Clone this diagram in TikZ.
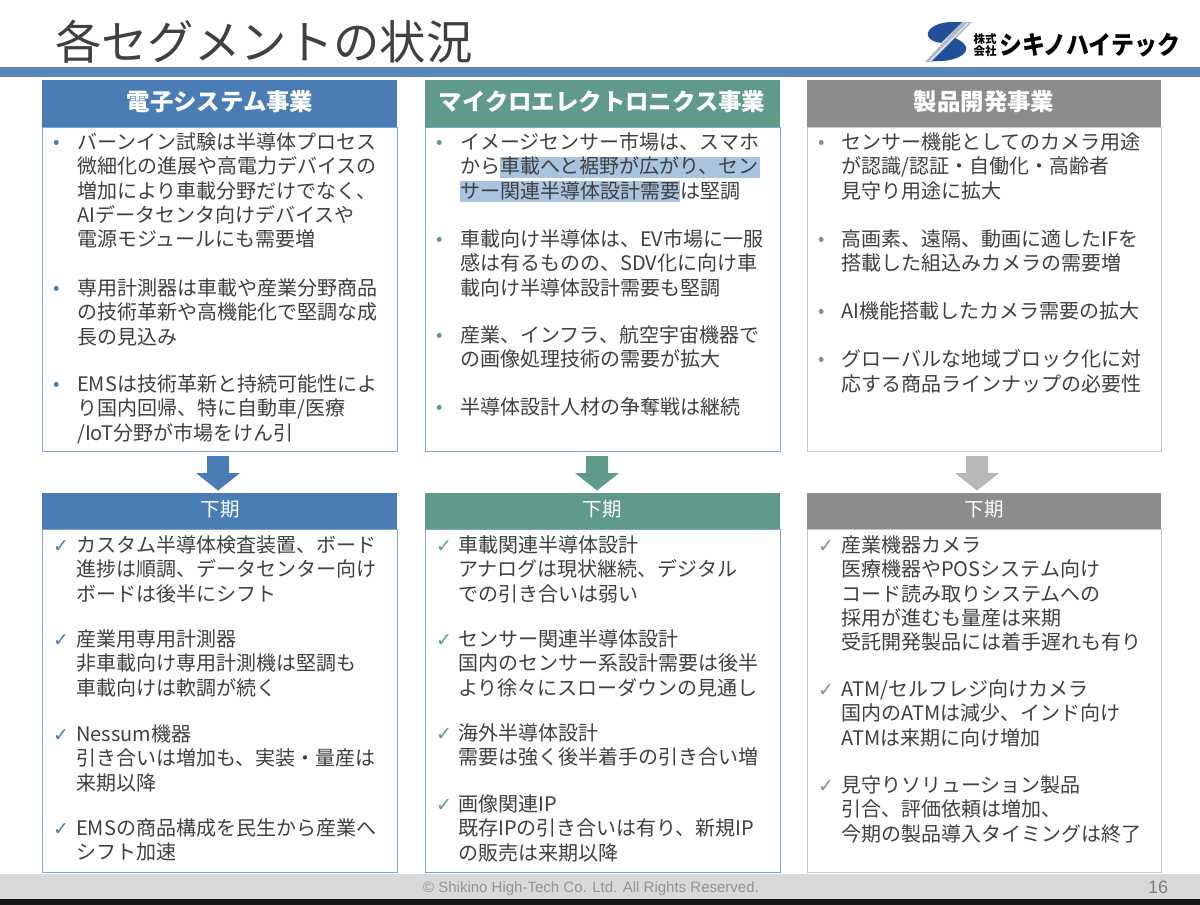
\documentclass[tikz,border=0pt]{standalone}
\usepackage{fontspec}
\setmainfont{Noto Sans CJK JP}
\newfontfamily\latinf{Liberation Sans}
\newfontfamily\dejaf{DejaVu Sans}
\definecolor{cblue}{HTML}{4A7DB5}
\definecolor{cgreen}{HTML}{5F9A8B}
\definecolor{cgray}{HTML}{8C8C8C}
\definecolor{bdblue}{HTML}{7FA6D2}
\definecolor{bdgray}{HTML}{C9C9C9}
\definecolor{arrgray}{HTML}{B7B7B7}
\definecolor{txt}{HTML}{404040}
\definecolor{hl}{HTML}{A9C4DE}
\definecolor{band}{HTML}{D9D9D9}
\definecolor{logoblue}{HTML}{1F5099}
\definecolor{logostripe}{HTML}{AEBBCB}
\tikzset{
 x=1pt,y=-1pt,
 para/.style={anchor=north west,inner sep=0pt,align=left,text=txt,font=\fontsize{20}{24.3}\selectfont},
 mark1/.style={anchor=center,inner sep=0pt,font=\fontsize{19}{19}\selectfont},
 mark2/.style={anchor=center,inner sep=0pt,font=\dejaf\fontsize{19}{19}\selectfont},
 head/.style={anchor=center,inner sep=0pt,text=white,font=\bfseries\fontsize{23.4}{26}\selectfont},
 sub/.style={anchor=center,inner sep=0pt,text=white,font=\fontsize{19.5}{22}\selectfont},
}
% \ub name x y color text : bulleted paragraph; \uc same with check mark
\newcommand{\ub}[6]{\node[mark1,text=#5] (#1m) at (#2,#4+2.5) {•};\node[para] (#1) at (#3,#4-9.5) {#6};}
\newcommand{\uc}[6]{\node[mark2,text=#5] (#1m) at (#2,#4+2) {✓};\node[para] (#1) at (#3,#4-9.5) {#6};}
\begin{document}
\begin{tikzpicture}
\useasboundingbox (0,0) rectangle (1200,905);
\fill[white] (0,0) rectangle (1200,905);
% top bar and footer
\fill[cblue!92!white] (0,67) rectangle (1200,76.5);
\fill[band] (0,874) rectangle (1200,899);
\fill[black!90] (0,899) rectangle (1200,905);
\node[anchor=west,inner sep=0pt,text=txt,font=\fontsize{46.4}{50}\selectfont] (title) at (55,41.5) {各セグメントの状況};
% logo
\fill[logostripe] (962,22) -- (972,22) -- (932,62) -- (925,62) -- cycle;
\draw[white,line width=0.7pt] (968,23) -- (930,61);
\fill[logoblue] (962,22) -- (950,22) .. controls (936,23) and (926,29) .. (928,36) .. controls (930,41) and (936,42) .. (941,43) -- cycle;
\fill[logoblue] (955,38) -- (932,61) -- (942,61) .. controls (957,60) and (968,54) .. (966,47) .. controls (964,42) and (959,40) .. (955,38) -- cycle;
\node[inner sep=0pt,font=\bfseries\fontsize{11.5}{12}\selectfont,align=center] (logoa) at (985,45) {株式\\[0pt]会社};
\node[anchor=west,inner sep=0pt,xscale=.9,font=\bfseries\fontsize{25.5}{28}\selectfont] (logob) at (999,45) {シキノハイテック};
% column boxes
\foreach \xa/\xb/\c/\bd in {42/397/cblue/bdblue,425/780/cgreen/bdblue,807/1161/cgray/bdgray}{
 \draw[\bd,line width=1pt,fill=white] (\xa,127) rectangle (\xb,451);
 \fill[\c] (\xa,80) rectangle (\xb,127);
 \draw[\bd,line width=1pt,fill=white] (\xa,529) rectangle (\xb,872);
 \fill[\c] (\xa,493) rectangle (\xb,529);
}
\node[head] (h1) at (220,102) {電子システム事業};
\node[head] (h2) at (602,102) {マイクロエレクトロニクス事業};
\node[head] (h3) at (984,102) {製品開発事業};
\node[sub] (s1) at (220,509) {下期};
\node[sub] (s2) at (602,509) {下期};
\node[sub] (s3) at (984,509) {下期};
% block arrows
\foreach \m/\c in {218/cblue,597/cgreen,977/arrgray}{
 \fill[\c] (\m-11,456) -- (\m+11,456) -- (\m+11,473) -- (\m+22,473) -- (\m,490.5) -- (\m-22,473) -- (\m-11,473) -- cycle;
}
% highlight
\fill[hl] (499.5,156.5) rectangle (760,177.5);
\fill[hl] (459.5,180.5) rectangle (680,201.5);
% column 1 upper
\ub{a1}{57}{77}{142}{cblue}{バーンイン試験は半導体プロセス\\微細化の進展や高電力デバイスの\\増加により車載分野だけでなく、\\AIデータセンタ向けデバイスや\\電源モジュールにも需要増}
\ub{a2}{57}{77}{288}{cblue}{専用計測器は車載や産業分野商品\\の技術革新や高機能化で堅調な成\\長の見込み}
\ub{a3}{57}{77}{384}{cblue}{EMSは技術革新と持続可能性によ\\り国内回帰、特に自動車/医療\\/IoT分野が市場をけん引}
% column 2 upper
\ub{b1}{440}{460}{142}{cgreen}{イメージセンサー市場は、スマホ\\から車載へと裾野が広がり、セン\\サー関連半導体設計需要は堅調}
\ub{b2}{440}{460}{239}{cgreen}{車載向け半導体は、EV市場に一服\\感は有るものの、SDV化に向け車\\載向け半導体設計需要も堅調}
\ub{b3}{440}{460}{335}{cgreen}{産業、インフラ、航空宇宙機器で\\の画像処理技術の需要が拡大}
\ub{b4}{440}{460}{407}{cgreen}{半導体設計人材の争奪戦は継続}
% column 3 upper
\ub{c1}{822}{841}{142}{cgray}{センサー機能としてのカメラ用途\\が認識/認証・自働化・高齢者\\見守り用途に拡大}
\ub{c2}{822}{841}{239}{cgray}{高画素、遠隔、動画に適したIFを\\搭載した組込みカメラの需要増}
\ub{c3}{822}{841}{311}{cgray}{AI機能搭載したカメラ需要の拡大}
\ub{c4}{822}{841}{359}{cgray}{グローバルな地域ブロック化に対\\応する商品ラインナップの必要性}
% column 1 lower
\uc{d1}{61}{76}{545}{cblue}{カスタム半導体検査装置、ボード\\進捗は順調、データセンター向け\\ボードは後半にシフト}
\uc{d2}{61}{76}{639}{cblue}{産業用専用計測器\\非車載向け専用計測機は堅調も\\車載向けは軟調が続く}
\uc{d3}{61}{76}{734}{cblue}{Nessum機器\\引き合いは増加も、実装・量産は\\来期以降}
\uc{d4}{61}{76}{828}{cblue}{EMSの商品構成を民生から産業へ\\シフト加速}
% column 2 lower
\uc{e1}{444}{458}{545}{cgreen}{車載関連半導体設計\\アナログは現状継続、デジタル\\での引き合いは弱い}
\uc{e2}{444}{458}{639}{cgreen}{センサー関連半導体設計\\国内のセンサー系設計需要は後半\\より徐々にスローダウンの見通し}
\uc{e3}{444}{458}{733}{cgreen}{海外半導体設計\\需要は強く後半着手の引き合い増}
\uc{e4}{444}{458}{804}{cgreen}{画像関連IP\\既存IPの引き合いは有り、新規IP\\の販売は来期以降}
% column 3 lower
\uc{f1}{826}{841}{545}{cgray}{産業機器カメラ\\医療機器やPOSシステム向け\\コード読み取りシステムへの\\採用が進むも量産は来期\\受託開発製品には着手遅れも有り}
\uc{f2}{826}{841}{689}{cgray}{ATM/セルフレジ向けカメラ\\国内のATMは減少、インド向け\\ATMは来期に向け増加}
\uc{f3}{826}{841}{785}{cgray}{見守りソリューション製品\\引合、評価依頼は増加、\\今期の製品導入タイミングは終了}
% footer
\node[inner sep=0pt,text=black!42,font=\latinf\fontsize{15}{16}\selectfont] (copy) at (591,889) {© Shikino High-Tech Co. Ltd. All Rights Reserved.};
\node[inner sep=0pt,text=black!50,font=\latinf\fontsize{18}{20}\selectfont] (pg) at (1158,887) {16};
\end{tikzpicture}
\end{document}
